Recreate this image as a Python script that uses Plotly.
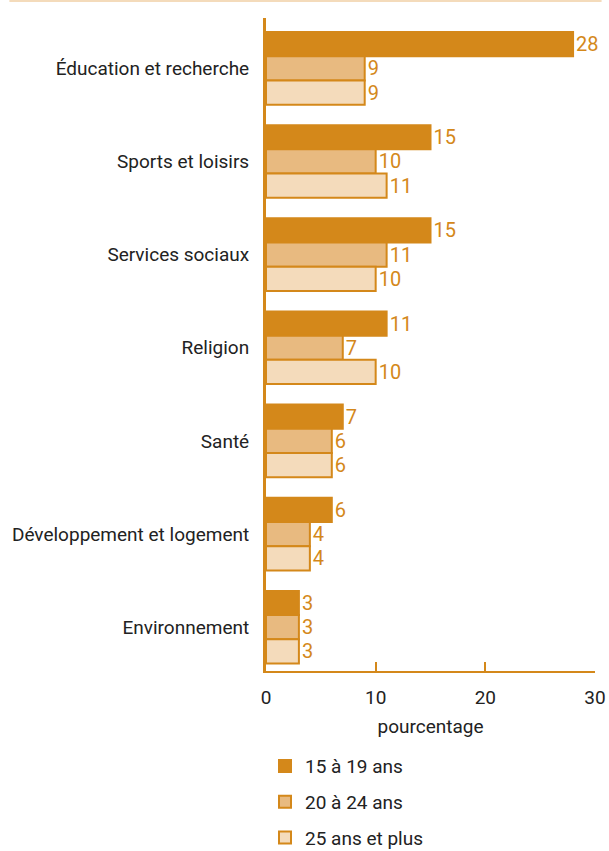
import plotly.graph_objects as go

categories = ["Éducation et recherche", "Sports et loisirs", "Services sociaux",
              "Religion", "Santé", "Développement et logement", "Environnement"]
series_names = ["15 à 19 ans", "20 à 24 ans", "25 ans et plus"]
v_15_19 = [28, 15, 15, 11, 7, 6, 3]
v_20_24 = [9, 10, 11, 7, 6, 4, 3]
v_25_plus = [9, 11, 10, 10, 6, 4, 3]
x_ticks = [0, 10, 20, 30]

ORANGE = "#D4881A"
fills = [ORANGE, "#E8BA80", "#F4DBBB"]
FONT = "Roboto, Arial, sans-serif"

fig = go.Figure()
for i, (name, vals, fc) in enumerate(zip(series_names, [v_15_19, v_20_24, v_25_plus], fills)):
    fig.add_trace(go.Bar(
        y=categories, x=vals, name=name, orientation="h",
        legendgroup=f"g{i}",
        marker=dict(color=fc, line=dict(color=ORANGE, width=2)),
        text=[str(v) for v in vals], textposition="outside",
        textfont=dict(color=ORANGE, size=20, family=FONT),
        cliponaxis=False,
    ))

fig.update_layout(
    width=609, height=851,
    margin=dict(l=266, r=14, t=18, b=180),
    paper_bgcolor="white", plot_bgcolor="white",
    barmode="group", bargap=0.22, bargroupgap=0,
    font=dict(family=FONT, size=19, color="#222222"),
    showlegend=True,
    legend=dict(x=-0.003, xanchor="left", yref="container", y=0.122, yanchor="top",
                font=dict(size=19, color="#222222"), traceorder="grouped",
                tracegroupgap=8),
    xaxis=dict(range=[0, 30], tickvals=x_ticks, ticks="inside", ticklen=9,
               tickwidth=2, tickcolor=ORANGE, showline=True, linecolor=ORANGE,
               linewidth=2, showgrid=False, zeroline=False, automargin=False,
               ticklabelstandoff=8,
               title=dict(text="pourcentage", font=dict(size=19), standoff=12),
               tickfont=dict(size=19, color="#222222")),
    yaxis=dict(range=[6.47, -0.54], showline=True, linecolor=ORANGE, linewidth=3,
               showgrid=False, zeroline=False, ticks="", ticklabelstandoff=10,
               automargin=False,
               tickfont=dict(size=19, color="#222222")),
    shapes=[dict(type="line", xref="paper", yref="paper", x0=-0.78, x1=1.02,
                 y0=1.026, y1=1.026, line=dict(color="#F4DBBB", width=2))],
)

fig.write_html("out.html", config={"displayModeBar": False},
               post_script="document.body.style.margin='0';")
